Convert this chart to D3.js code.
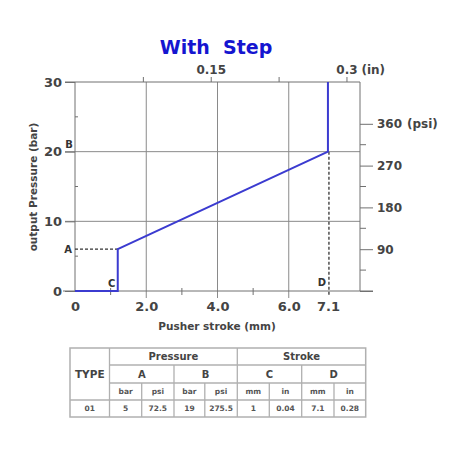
<!DOCTYPE html>
<html>
<head>
<meta charset="utf-8">
<script src="https://cdn.jsdelivr.net/npm/d3@7"></script>
<style>
  html, body { margin: 0; padding: 0; background: #fff; }
  svg { display: block; }
  text { font-family: "DejaVu Sans", Verdana, sans-serif; font-weight: bold; }
</style>
</head>
<body>
<svg id="chart" width="465" height="465"></svg>
<script>
// ---- data ----
const title = "With  Step";
const curveX = [0, 1.2, 1.2, 7.1, 7.1];        // mm
const curveY = [0, 0, 6, 20, 30];              // bar
const pointA = [1.2, 6];
const pointD = [7.1, 20];
const xMajorTicks = [0, 2, 4, 6, 7.1];
const xMajorLabels = ["0", "2.0", "4.0", "6.0", "7.1"];
const xGrid = [2, 4, 6];
const xMinorTicks = [1, 3, 5];
const yMajorTicks = [0, 10, 20, 30];
const yGrid = [10, 20];
const yMinorTicks = [5, 15, 25];
const inTicks = [0.075, 0.15, 0.225, 0.3];
const inLabels = {"0.15": "0.15", "0.3": "0.3"};
const psiMajorTicks = [0, 90, 180, 270, 360];
const psiLabels = ["", "90", "180", "270", "360"];
const psiMinorTicks = [45, 135, 225, 315];
const xTitle = "Pusher stroke (mm)";
const yTitle = "output Pressure (bar)";

const tableType = "TYPE";
const tableGroups = ["Pressure", "Stroke"];
const tableSub = ["A", "B", "C", "D"];
const tableUnits = ["bar", "psi", "bar", "psi", "mm", "in", "mm", "in"];
const tableRow = ["01", "5", "72.5", "19", "275.5", "1", "0.04", "7.1", "0.28"];

// ---- layout ----
const svg = d3.select("#chart");
const L = 75, R = 360, T = 82, B = 291;
const x = d3.scaleLinear().domain([0, 8]).range([L, R]);
const y = d3.scaleLinear().domain([0, 30]).range([B, T]);
const xIn = d3.scaleLinear().domain([0, 8 / 25.4]).range([L, R]);
const yPsi = d3.scaleLinear().domain([0, 450]).range([B, T]);

const gridCol = "#8a8a8a";
const frameCol = "#707070";
const textCol = "#444";
const lineCol = "#3b3bd0";

// title
svg.append("text").attr("x", 216).attr("y", 54).attr("text-anchor", "middle")
  .attr("fill", "#1515d0").attr("font-size", 19).attr("xml:space", "preserve").text(title);

// gridlines
svg.append("g").selectAll("line").data(xGrid).join("line")
  .attr("x1", d => x(d)).attr("x2", d => x(d)).attr("y1", T).attr("y2", B + 7)
  .attr("stroke", gridCol).attr("stroke-width", 1);
svg.append("g").selectAll("line").data(yGrid).join("line")
  .attr("x1", L - 10).attr("x2", R).attr("y1", d => y(d)).attr("y2", d => y(d))
  .attr("stroke", gridCol).attr("stroke-width", 1);

// frame
const frame = svg.append("g").attr("stroke", frameCol).attr("stroke-width", 1);
frame.append("line").attr("x1", L).attr("x2", L).attr("y1", T).attr("y2", B);
frame.append("line").attr("x1", R).attr("x2", R).attr("y1", T).attr("y2", B);
frame.append("line").attr("x1", L - 10).attr("x2", R).attr("y1", T).attr("y2", T);
frame.append("line").attr("x1", L - 12).attr("x2", R + 13).attr("y1", B).attr("y2", B);

// left axis
const leftAxis = svg.append("g").attr("transform", `translate(${L},0)`)
  .call(d3.axisLeft(y).tickValues(yMajorTicks).tickSize(10).tickPadding(3).tickFormat(d3.format("d")));
leftAxis.select(".domain").remove();
leftAxis.selectAll("line").attr("stroke", frameCol);
leftAxis.selectAll("text").attr("fill", textCol).attr("font-size", 13)
  .attr("font-family", "DejaVu Sans").attr("font-weight", "bold");
svg.append("g").selectAll("line").data(yMinorTicks).join("line")
  .attr("x1", L).attr("x2", L + 3).attr("y1", d => y(d)).attr("y2", d => y(d))
  .attr("stroke", frameCol);

// bottom axis
const bottomAxis = svg.append("g").attr("transform", `translate(0,${B})`)
  .call(d3.axisBottom(x).tickValues(xMajorTicks).tickSize(0).tickPadding(11)
    .tickFormat((d, i) => xMajorLabels[i]));
bottomAxis.select(".domain").remove();
bottomAxis.selectAll("text").attr("fill", textCol).attr("font-size", 13)
  .attr("font-family", "DejaVu Sans").attr("font-weight", "bold");
svg.append("g").selectAll("line").data(xMinorTicks).join("line")
  .attr("x1", d => x(d)).attr("x2", d => x(d)).attr("y1", B - 3).attr("y2", B + 4)
  .attr("stroke", frameCol);

// top axis (inches)
const topAxis = svg.append("g").attr("transform", `translate(0,${T})`)
  .call(d3.axisTop(xIn).tickValues(inTicks).tickSize(5).tickPadding(3)
    .tickFormat(d => inLabels[String(d)] || ""));
topAxis.select(".domain").remove();
topAxis.selectAll("line").attr("stroke", frameCol);
topAxis.selectAll("text").attr("fill", textCol).attr("font-size", 12)
  .attr("font-family", "DejaVu Sans").attr("font-weight", "bold");
svg.append("text").attr("x", xIn(0.3) + 15).attr("y", T - 8)
  .attr("fill", textCol).attr("font-size", 12).text("(in)");

// right axis (psi)
const rightAxis = svg.append("g").attr("transform", `translate(${R},0)`)
  .call(d3.axisRight(yPsi).tickValues(psiMajorTicks).tickSize(13).tickPadding(4)
    .tickFormat((d, i) => psiLabels[i]));
rightAxis.select(".domain").remove();
rightAxis.selectAll("line").attr("stroke", frameCol);
rightAxis.selectAll("text").attr("fill", textCol).attr("font-size", 12)
  .attr("font-family", "DejaVu Sans").attr("font-weight", "bold");
svg.append("g").selectAll("line").data(psiMinorTicks).join("line")
  .attr("x1", R).attr("x2", R + 6).attr("y1", d => yPsi(d)).attr("y2", d => yPsi(d))
  .attr("stroke", frameCol);
svg.append("text").attr("x", R + 17 + 30).attr("y", yPsi(360) + 4)
  .attr("fill", textCol).attr("font-size", 12).text("(psi)");

// axis titles
svg.append("text").attr("x", 217).attr("y", 330).attr("text-anchor", "middle")
  .attr("fill", textCol).attr("font-size", 10.5).text(xTitle);
svg.append("text").attr("transform", `translate(37,187) rotate(-90)`).attr("text-anchor", "middle")
  .attr("fill", textCol).attr("font-size", 10.5).text(yTitle);

// dashed reference lines
svg.append("line").attr("x1", L).attr("x2", x(pointA[0])).attr("y1", y(pointA[1])).attr("y2", y(pointA[1]))
  .attr("stroke", "#333").attr("stroke-width", 1.2).attr("stroke-dasharray", "3,2");
svg.append("line").attr("x1", x(pointD[0]) + 1).attr("x2", x(pointD[0]) + 1).attr("y1", y(pointD[1])).attr("y2", B + 5)
  .attr("stroke", "#333").attr("stroke-width", 1.3).attr("stroke-dasharray", "3,2");

// curve
const line = d3.line().x(d => x(d[0])).y(d => y(d[1]));
svg.append("path").datum(curveX.map((v, i) => [v, curveY[i]]))
  .attr("d", line).attr("fill", "none").attr("stroke", lineCol).attr("stroke-width", 2);

// point labels
const lab = (t, px, py) => svg.append("text").attr("x", px).attr("y", py)
  .attr("fill", "#333").attr("font-size", 10).attr("text-anchor", "middle").text(t);
lab("A", L - 7, y(pointA[1]) + 4);
lab("B", L - 6, y(pointD[1]) - 4);
lab("C", x(pointA[0]) - 6, B - 4);
lab("D", x(pointD[0]) - 6, B - 5);

// ---- table ----
const colX = [70, 109.5, 141.7, 174, 204.8, 237.3, 269.3, 301.7, 334, 365.7];
const rowY = [348, 365, 383, 400, 417];
const tg = svg.append("g");
const tcol = "#b0b0b0";
const hl = (x1, x2, yy) => tg.append("line").attr("x1", x1).attr("x2", x2).attr("y1", yy).attr("y2", yy)
  .attr("stroke", tcol).attr("stroke-width", 1.3);
const vl = (xx, y1, y2) => tg.append("line").attr("x1", xx).attr("x2", xx).attr("y1", y1).attr("y2", y2)
  .attr("stroke", tcol).attr("stroke-width", 1.3);
// outer
tg.append("rect").attr("x", colX[0]).attr("y", rowY[0]).attr("width", colX[9] - colX[0]).attr("height", rowY[4] - rowY[0])
  .attr("fill", "none").attr("stroke", tcol).attr("stroke-width", 1.5);
hl(colX[1], colX[9], rowY[1]);
hl(colX[1], colX[9], rowY[2]);
hl(colX[0], colX[9], rowY[3]);
vl(colX[1], rowY[0], rowY[4]);
vl(colX[5], rowY[0], rowY[4]);
vl(colX[3], rowY[1], rowY[4]);
vl(colX[7], rowY[1], rowY[4]);
[2, 4, 6, 8].forEach(i => vl(colX[i], rowY[2], rowY[4]));

const tt = (t, cx, cy, size, col) => tg.append("text").attr("x", cx).attr("y", cy)
  .attr("text-anchor", "middle").attr("dominant-baseline", "central")
  .attr("font-size", size).attr("fill", col).text(t);
tt(tableType, (colX[0] + colX[1]) / 2, (rowY[0] + rowY[3]) / 2, 10.5, "#444");
tableGroups.forEach((g, i) => tt(g, (colX[1 + 4 * i] + colX[5 + 4 * i]) / 2, (rowY[0] + rowY[1]) / 2, 10, "#444"));
tableSub.forEach((s, i) => tt(s, (colX[1 + 2 * i] + colX[3 + 2 * i]) / 2, (rowY[1] + rowY[2]) / 2, 10, "#444"));
tableUnits.forEach((u, i) => tt(u, (colX[1 + i] + colX[2 + i]) / 2, (rowY[2] + rowY[3]) / 2, 7.5, "#555"));
tableRow.forEach((v, i) => tt(v, (colX[i] + colX[i + 1]) / 2, (rowY[3] + rowY[4]) / 2, 7.5, "#555"));
</script>
</body>
</html>
